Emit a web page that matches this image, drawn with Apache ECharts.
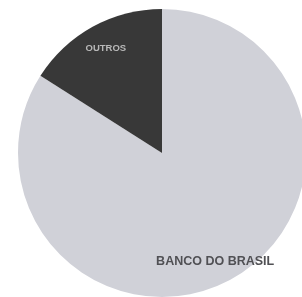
<!DOCTYPE html>
<html>
<head>
<meta charset="utf-8">
<script src="https://cdn.jsdelivr.net/npm/echarts@6/dist/echarts.min.js"></script>
<style>
  html, body { margin: 0; padding: 0; background: #fff; }
  #chart { width: 302px; height: 297px; }
</style>
</head>
<body>
<div id="chart"></div>
<script>
// fatias (estimadas da imagem)
const names = ['BANCO DO BRASIL', 'OUTROS']
const values = [84, 16]
const colors = ['#d0d1d8', '#383838']

const chart = echarts.init(document.getElementById('chart'), null, { renderer: 'canvas' })

const option = {
  animation: false,
  series: [{
    type: 'pie',
    center: [162, 153],
    radius: [0, 144],
    startAngle: 90,
    clockwise: true,
    itemStyle: { borderWidth: 0 },
    label: {
      show: true,
      position: 'inside',
      formatter: '{b}',
      fontFamily: 'Liberation Sans',
      fontWeight: 'bold'
    },
    labelLayout: function (params) {
      if (params.dataIndex === 0) return { dx: 17, dy: 43 }
      return { dx: -20, dy: -39 }
    },
    data: names.map((n, i) => ({
      name: n,
      value: values[i],
      itemStyle: { color: colors[i] },
      label: i === 0
        ? { color: '#505054', fontSize: 12.5 }
        : { color: '#b8b8b8', fontSize: 9.5 }
    }))
  }]
}

chart.setOption(option)
</script>
</body>
</html>
